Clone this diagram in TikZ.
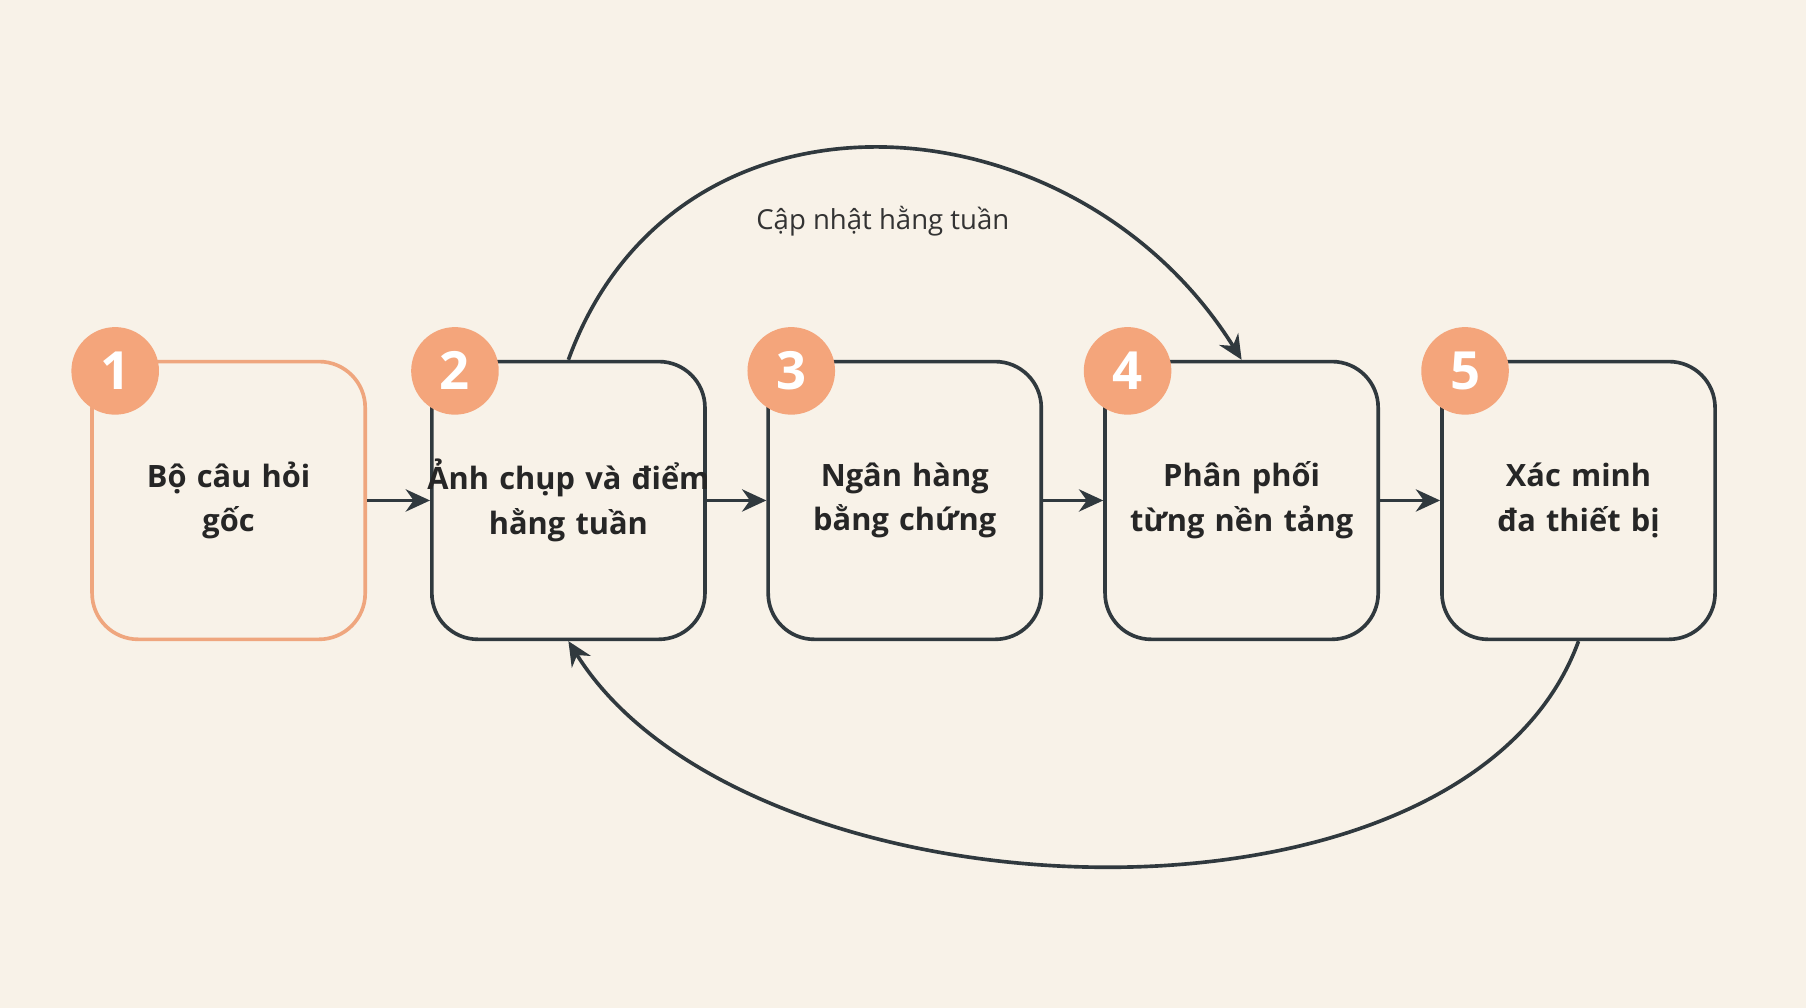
\documentclass[tikz,border=0pt]{standalone}
\usepackage{fontspec}
\setmainfont{Open Sans}
\usetikzlibrary{positioning, arrows.meta, calc}
\definecolor{bgcol}{HTML}{F8F2E8}
\definecolor{linecol}{HTML}{30393E}
\definecolor{peach}{HTML}{F4A57B}
\definecolor{peachline}{HTML}{EFA67E}

\begin{document}
\begin{tikzpicture}[
    x=0.01cm, y=-0.01cm,
    >={Stealth[length=6pt, width=5.5pt]},
    % Styles
    stage/.style={ % Process stage
        rectangle,
        rounded corners=0.4cm,
        draw=linecol,
        line width=0.9pt,
        text width=2.1cm,
        inner xsep=0.135cm,
        minimum height=2.41cm,
        align=center,
        font=\fontsize{7.6}{11}\selectfont\bfseries,
        text=black!85
    },
    first/.style={ % First stage
        stage,
        draw=peachline
    },
    badge/.style={ % Number badge
        circle,
        fill=peach,
        minimum size=0.76cm,
        inner sep=0pt,
        text=white,
        font=\fontsize{13}{13}\selectfont\bfseries
    },
    arrow/.style={
        ->,
        draw=linecol,
        line width=0.8pt
    },
    arc/.style={ % Feedback arcs
        arrow,
        line width=0.9pt
    }
]

    % Background
    \useasboundingbox (0,0) rectangle (1568,875);
    \fill [bgcol] (0,0) rectangle (1568,875);

    % Stages
    \node [first] (s1) at (198.5,434.5) {Bộ câu hỏi\\gốc};
    \node [stage] (s2) at (493.5,434.5) {\hbox to 0pt{\hss Ảnh chụp và điểm\hss}\\hằng tuần};
    \node [stage] (s3) at (785.5,434.5) {Ngân hàng\\bằng chứng};
    \node [stage] (s4) at (1078,434.5) {Phân phối\\từng nền tảng};
    \node [stage] (s5) at (1370.5,434.5) {Xác minh\\đa thiết bị};

    % Badges
    \node [badge] (n1) at (100,322) {1};
    \node [badge] (n2) at (395,322) {2};
    \node [badge] (n3) at (687,322) {3};
    \node [badge] (n4) at (979,322) {4};
    \node [badge] (n5) at (1272,322) {5};

    % Arrows between stages
    \draw [arrow] (s1) -- (s2);
    \draw [arrow] (s2) -- (s3);
    \draw [arrow] (s3) -- (s4);
    \draw [arrow] (s4) -- (s5);

    % Weekly update arc
    \draw [arc] (s2.north) to[out=70, in=122, looseness=1.2]
        node[pos=0.5, below=0.37cm, font=\fontsize{6.8}{8}\selectfont, text=black!80] {Cập nhật hằng tuần}
        (s4.north);

    % Return arc
    \draw [arc] (s5.south) to[out=-110, in=-58, looseness=0.85] (s2.south);
\end{tikzpicture}
\end{document}
